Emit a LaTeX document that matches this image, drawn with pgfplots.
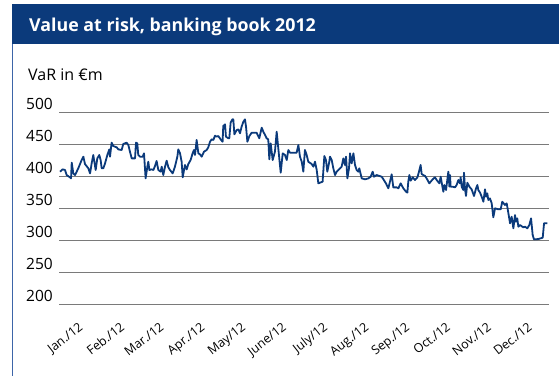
\documentclass[border=0pt]{standalone}
\usepackage{fontspec}
\setmainfont{Open Sans}
\usepackage{pgfplots}
\pgfplotsset{compat=1.18}
\definecolor{navy}{HTML}{0B3A7B}
\definecolor{borderblue}{HTML}{3D65A8}
\definecolor{gridgray}{HTML}{7A7A7A}
\pgfplotstableread{
day var
0.8 407.7
2.7 411.3
4.5 410.3
5.7 402.4
8.2 398.8
9.0 397.2
9.5 421.8
10.7 405.0
12.0 402.4
14.4 412.9
16.9 425.9
18.2 431.2
19.4 419.7
21.9 412.9
23.2 405.0
24.4 420.7
25.6 433.8
26.4 423.3
27.4 410.3
28.6 428.5
30.1 433.8
31.1 425.9
31.9 412.9
33.1 412.9
34.4 420.7
36.1 433.8
37.6 442.6
38.1 431.2
39.3 453.1
40.6 447.9
41.8 446.8
43.1 445.8
44.3 442.6
46.8 441.6
48.0 451.0
50.5 453.1
51.8 449.4
53.0 439.0
54.3 428.5
56.8 428.5
57.5 453.1
58.5 452.0
59.2 433.8
60.5 431.2
62.5 431.2
63.5 436.4
64.7 397.2
66.0 415.5
66.7 423.3
67.5 410.3
69.2 411.3
70.5 410.3
71.7 416.5
72.9 424.4
74.2 410.3
75.9 407.7
76.7 415.5
77.9 402.4
79.2 415.5
80.4 424.9
81.7 414.5
82.9 410.3
84.9 405.0
86.6 415.5
88.4 431.2
89.1 442.6
90.4 436.4
91.6 423.3
92.4 398.8
93.4 410.3
94.1 418.1
95.4 411.3
96.6 419.7
98.3 425.9
99.8 436.4
100.8 441.6
101.6 433.8
102.8 457.3
104.1 436.4
105.3 434.8
106.6 431.2
108.3 439.0
110.3 441.6
111.5 445.8
112.8 454.6
114.0 458.3
115.3 457.3
116.5 464.0
117.8 462.5
119.0 463.5
120.7 458.3
122.2 454.6
122.7 479.2
124.0 481.8
124.7 462.5
126.5 459.9
127.2 459.9
128.2 484.4
129.5 489.6
130.2 489.6
131.0 466.1
132.7 472.9
134.0 473.9
135.2 467.7
136.4 478.1
137.7 485.9
138.9 489.6
139.7 478.1
140.7 454.6
142.2 463.5
143.9 468.7
147.6 468.7
149.6 459.9
151.4 476.6
152.6 470.3
153.9 465.1
155.1 459.9
156.3 458.3
157.1 427.0
158.1 452.0
159.6 425.9
161.3 439.0
162.6 470.3
163.8 444.2
165.6 406.1
167.1 436.4
168.8 433.8
170.1 425.9
171.3 441.6
172.5 437.4
175.0 437.4
177.5 437.4
178.8 449.4
180.0 431.2
181.3 423.3
182.5 407.7
183.7 441.6
185.0 433.8
186.2 423.3
188.7 419.7
190.0 415.5
191.2 423.3
192.5 410.3
193.7 389.4
194.9 390.4
196.9 392.0
198.2 432.2
199.4 425.9
200.4 407.7
201.9 423.3
202.4 431.2
203.7 425.9
204.9 412.9
206.2 402.4
207.4 407.7
208.6 410.3
211.1 415.5
212.4 428.5
213.6 418.1
214.4 431.2
215.4 397.2
216.6 412.9
217.4 436.4
218.6 420.7
219.9 436.4
221.1 418.1
222.3 410.3
223.6 407.7
224.3 412.9
226.1 397.2
228.6 395.7
231.1 397.2
232.8 399.8
234.3 407.7
235.3 399.8
237.3 402.4
241.0 399.8
242.3 395.7
244.2 389.4
246.0 381.6
247.2 392.0
248.5 403.5
249.7 383.1
252.2 383.1
253.5 381.6
255.2 389.4
257.2 381.6
259.2 376.3
260.2 374.8
260.9 392.0
261.7 402.4
262.7 393.6
264.2 398.8
265.9 394.6
267.7 398.8
268.9 407.7
270.1 418.1
270.9 404.0
272.1 402.4
273.4 400.9
274.6 397.2
276.6 389.4
279.1 395.7
280.8 398.8
282.1 394.6
284.1 389.4
285.1 399.8
286.6 381.6
287.1 376.3
287.8 386.8
289.1 379.0
290.1 395.7
290.8 407.7
291.6 384.2
292.1 402.4
292.5 384.2
294.0 384.2
295.8 383.1
297.0 386.8
298.3 394.6
299.5 389.4
300.0 398.8
300.8 384.2
302.0 379.0
302.5 406.1
303.3 380.0
304.0 369.6
305.0 390.4
306.5 384.2
308.2 380.0
310.0 369.6
311.5 381.6
312.5 386.8
313.2 379.0
314.5 374.8
315.7 368.5
317.0 360.7
318.2 380.0
319.0 368.5
319.9 373.7
320.7 363.3
321.9 365.9
323.2 358.1
324.4 336.2
325.7 350.3
328.1 348.7
329.9 348.7
331.1 360.7
333.1 355.5
334.4 358.1
335.6 343.5
336.9 326.8
338.1 337.2
339.4 319.0
340.6 339.8
341.3 329.4
342.3 334.6
343.1 321.5
344.3 324.2
346.8 320.5
348.1 321.5
349.8 319.0
351.3 324.2
352.6 334.6
353.8 308.5
354.8 301.7
358.0 302.2
361.3 304.3
362.3 326.8
364.8 326.8
}\vartable
\begin{document}
\begin{tikzpicture}
\path[use as bounding box] (0pt,0pt) rectangle (559pt,-376pt);
\fill[navy] (12pt,-4pt) rectangle (559pt,-44pt);
\draw[borderblue, line width=1.3pt] (12.7pt,-44pt) -- (12.7pt,-376pt);
\node[anchor=base west, text=white, font=\bfseries\fontsize{17.8}{20}\selectfont, inner sep=0pt] at (29pt,-31pt) {Value at risk, banking book 2012};
\node[anchor=base west, font=\fontsize{16}{18}\selectfont, inner sep=0pt] at (28pt,-80pt) {VaR in €m};
\begin{axis}[
  at={(59pt,-304.3pt)}, anchor=south west,
  scale only axis, width=490pt, height=191.6pt,
  xmin=0, xmax=366, ymin=200, ymax=500,
  clip=false,
  axis line style={draw=none},
  major tick length=0pt,
  ytick={200,250,...,500},
  ymajorgrids,
  grid style={gridgray, line width=1.4pt},
  /pgf/number format/assume math mode=true,
  yticklabel style={font=\fontsize{15.5}{18}\selectfont, anchor=base east, yshift=3pt, inner sep=0pt, xshift=-6pt},
  xtick={14.2,45.2,74.7,105.2,135.7,166.2,196.7,227.7,258.2,288.7,319.2,349.7},
  xticklabels={Jan./12,Feb./12,Mar./12,Apr./12,May/12,June/12,July/12,Aug./12,Sep./12,Oct./12,Nov./12,Dec./12},
  xticklabel style={font=\fontsize{12.5}{14}\selectfont, rotate=38, anchor=north east, inner sep=0pt},
  xticklabel shift=17pt,
]
\addplot[navy, line width=1.8pt, no markers, line join=round] table[x=day,y=var] {\vartable};
\end{axis}
\end{tikzpicture}
\end{document}
